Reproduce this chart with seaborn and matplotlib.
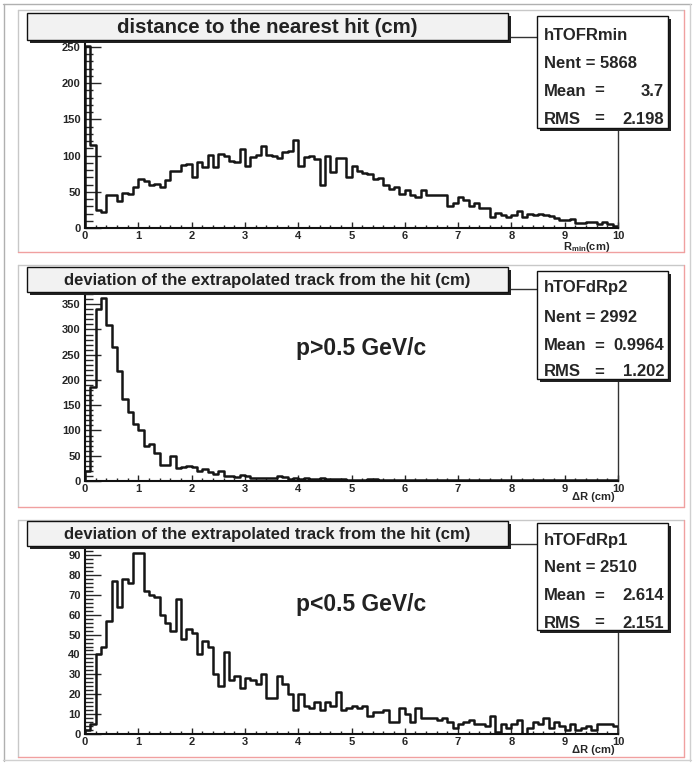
import numpy as np
import pandas as pd
import matplotlib
matplotlib.use("Agg")
import matplotlib.pyplot as plt
from matplotlib.patches import Rectangle
from matplotlib.lines import Line2D
from matplotlib.ticker import MultipleLocator
import seaborn as sns

# ---------------------------------------------------------------- data
bin_edges = np.linspace(0.0, 10.0, 101)

rmin_counts = [
    251, 115, 25, 22, 45, 45, 37, 48, 47, 56,
    67, 65, 60, 61, 56, 66, 78, 78, 87, 88,
    70, 91, 84, 101, 84, 102, 99, 92, 91, 109,
    86, 98, 101, 113, 101, 100, 97, 105, 106, 122,
    85, 98, 99, 95, 59, 100, 77, 97, 97, 71,
    85, 79, 76, 75, 68, 69, 60, 54, 57, 47,
    53, 46, 43, 52, 45, 45, 45, 45, 30, 35,
    43, 38, 30, 35, 28, 27, 15, 21, 18, 15,
    18, 24, 15, 19, 18, 19, 18, 16, 14, 11,
    11, 13, 7, 7, 8, 8, 6, 8, 6, 3,
]

drp2_counts = [
    20, 187, 340, 362, 308, 265, 217, 162, 137, 112,
    100, 70, 73, 55, 32, 32, 50, 25, 28, 29,
    27, 20, 23, 18, 13, 20, 10, 10, 8, 11,
    9, 6, 5, 6, 6, 6, 9, 7, 4, 6,
    4, 5, 4, 3, 5, 4, 4, 3, 3, 2,
    2, 1, 2, 3, 3, 1, 1, 2, 1, 2,
    1, 2, 2, 1, 1, 2, 1, 2, 1, 1,
    2, 1, 1, 2, 1, 1, 2, 1, 1, 2,
    1, 1, 2, 1, 1, 1, 2, 1, 1, 2,
    1, 1, 2, 1, 2, 1, 1, 1, 2, 1,
]

drp1_counts = [
    2, 5, 40, 44, 57, 77, 64, 78, 76, 91,
    91, 72, 70, 69, 60, 56, 52, 68, 48, 53,
    51, 40, 47, 44, 30, 24, 41, 27, 29, 23,
    28, 27, 25, 30, 18, 18, 29, 25, 20, 12,
    20, 14, 13, 16, 12, 16, 14, 21, 12, 13,
    14, 13, 14, 9, 11, 11, 12, 6, 6, 13,
    10, 6, 13, 8, 8, 8, 7, 8, 6, 3,
    5, 6, 7, 5, 5, 4, 9, 1, 5, 3,
    5, 7, 0, 3, 6, 5, 8, 3, 6, 4,
    2, 5, 2, 3, 4, 2, 5, 5, 5, 4,
]

titles = [
    "distance to the nearest hit (cm)",
    "deviation of the extrapolated track from the hit (cm)",
    "deviation of the extrapolated track from the hit (cm)",
]
hist_names = ["hTOFRmin", "hTOFdRp2", "hTOFdRp1"]
n_entries = ["5868", "2992", "2510"]
mean_vals = ["3.7", "0.9964", "2.614"]
rms_vals = ["2.198", "1.202", "2.151"]
cut_labels = [None, "p>0.5 GeV/c", "p<0.5 GeV/c"]
x_labels = [r"R$_{\mathbf{min}}$(cm)", "\u0394R (cm)", "\u0394R (cm)"]
y_major = [50, 50, 10]
y_minor = [10, 10, 2]
all_counts = [rmin_counts, drp2_counts, drp1_counts]

# ---------------------------------------------------------------- style
sns.set_style("ticks")
plt.rcParams["font.family"] = ["Liberation Sans", "DejaVu Sans"]
plt.rcParams["font.weight"] = "bold"
plt.rcParams["mathtext.fontset"] = "custom"
plt.rcParams["mathtext.rm"] = "Liberation Sans:bold"
plt.rcParams["mathtext.bf"] = "Liberation Sans:bold"

W, H = 694, 764
fig = plt.figure(figsize=(W / 100, H / 100), dpi=100)
fig.patch.set_facecolor("white")


def fx(x):
    return x / W


def fy(y):
    return 1 - y / H


def box(x0, y0, x1, y1, face, edge, lw=1.0, z=5, shadow=0):
    if shadow:
        fig.patches.append(Rectangle((fx(x0 + shadow), fy(y1 + shadow)),
                                     fx(x1 - x0), (y1 - y0) / H,
                                     transform=fig.transFigure,
                                     facecolor="#222222", edgecolor="none",
                                     zorder=z - 0.1))
    fig.patches.append(Rectangle((fx(x0), fy(y1)), fx(x1 - x0), (y1 - y0) / H,
                                 transform=fig.transFigure, facecolor=face,
                                 edgecolor=edge, linewidth=lw, zorder=z))


def hline(x0, x1, y, color, lw=1.0, z=6):
    fig.lines.append(Line2D([fx(x0), fx(x1)], [fy(y), fy(y)],
                            transform=fig.transFigure, color=color,
                            linewidth=lw, zorder=z))


def vline(x, y0, y1, color, lw=1.0, z=6):
    fig.lines.append(Line2D([fx(x), fx(x)], [fy(y0), fy(y1)],
                            transform=fig.transFigure, color=color,
                            linewidth=lw, zorder=z))


# canvas outline
hline(3, 691, 4, "#b0b0b0")
vline(4, 4, 761, "#b0b0b0")
vline(690, 4, 761, "#d0d0d0")
hline(3, 691, 760, "#d0d0d0")

pads = [(18, 10, 684, 252), (18, 265, 684, 507), (18, 520, 684, 757)]
frames = [(85, 37, 618, 228), (85, 289, 618, 481), (85, 544, 618, 734)]
title_boxes = [(27, 13, 508, 40), (27, 267, 508, 292), (27, 521, 508, 546)]
title_sizes = [14.7, 12, 12]
stat_boxes = [(537, 16, 668, 128), (537, 271, 668, 379), (537, 523, 668, 630)]
stat_rows = [(35, 63, 91, 119), (288, 317, 346, 372), (541, 568, 596, 623)]
cut_y = [None, 348, 605]
xlabel_pos = [(0.941, -0.098), (0.953, -0.082), (0.953, -0.082)]

centers = 0.5 * (bin_edges[:-1] + bin_edges[1:])

for i in range(3):
    px0, py0, px1, py1 = pads[i]
    vline(px0, py0, py1, "#c8c8c8", z=0.5)
    hline(px0, px1, py0, "#c8c8c8", z=0.5)
    vline(px1, py0, py1, "#f0a0a0", z=0.5)
    hline(px0, px1, py1, "#f0a0a0", z=0.5)

    x0, y0, x1, y1 = frames[i]
    ax = fig.add_axes([fx(x0), fy(y1), fx(x1 - x0), (y1 - y0) / H])
    counts = all_counts[i]
    df = pd.DataFrame({"x": centers, "n": counts})
    sns.histplot(data=df, x="x", weights="n", binwidth=0.1,
                 binrange=(0.0, 10.0), element="step", fill=False,
                 color="#151515", linewidth=1.8, ax=ax)
    ax.vlines([bin_edges[0], bin_edges[-1]], 0, [counts[0], counts[-1]],
              color="#151515", linewidth=1.8)
    ax.set_xlim(0, 10)
    ax.set_ylim(0, 1.05 * max(counts))
    ax.set_xlabel("")
    ax.set_ylabel("")
    ax.xaxis.set_major_locator(MultipleLocator(1))
    ax.xaxis.set_minor_locator(MultipleLocator(0.2))
    ax.yaxis.set_major_locator(MultipleLocator(y_major[i]))
    ax.yaxis.set_minor_locator(MultipleLocator(y_minor[i]))
    ax.tick_params(axis="x", which="major", direction="in", length=4.2,
                   width=1.0, labelsize=8, pad=2)
    ax.tick_params(axis="x", which="minor", direction="in", length=2.1,
                   width=1.0)
    ax.tick_params(axis="y", which="major", direction="in", length=11.5,
                   width=1.0, labelsize=8, pad=3)
    ax.tick_params(axis="y", which="minor", direction="in", length=5.8,
                   width=1.0)
    for lab in ax.get_xticklabels() + ax.get_yticklabels():
        lab.set_fontweight("bold")
    for s in ("left", "bottom"):
        ax.spines[s].set_linewidth(1.5)
        ax.spines[s].set_color("#111111")
    for s in ("top", "right"):
        ax.spines[s].set_linewidth(1.0)
        ax.spines[s].set_color("#333333")

    lx, ly = xlabel_pos[i]
    ax.text(lx, ly, x_labels[i], transform=ax.transAxes,
            ha="center", va="center", fontsize=8, fontweight="bold")

    # title pave
    tx0, ty0, tx1, ty1 = title_boxes[i]
    box(tx0, ty0, tx1, ty1, "#f2f2f2", "#111111", lw=1.0, z=5, shadow=3)
    fig.text(fx((tx0 + tx1) / 2), fy((ty0 + ty1) / 2 + 1), titles[i],
             ha="center", va="center", fontsize=title_sizes[i],
             fontweight="bold", color="#222222", zorder=7)

    # statistics pave
    sx0, sy0, sx1, sy1 = stat_boxes[i]
    box(sx0, sy0, sx1, sy1, "white", "#111111", lw=1.0, z=5, shadow=3)
    r = stat_rows[i]
    fs = 12
    fig.text(fx(544), fy(r[0]), hist_names[i], ha="left", va="center",
             fontsize=fs, fontweight="bold", zorder=7)
    fig.text(fx(544), fy(r[1]), "Nent = " + n_entries[i], ha="left",
             va="center", fontsize=fs, fontweight="bold", zorder=7)
    fig.text(fx(544), fy(r[2]), "Mean", ha="left", va="center",
             fontsize=fs, fontweight="bold", zorder=7)
    fig.text(fx(544), fy(r[3]), "RMS", ha="left", va="center",
             fontsize=fs, fontweight="bold", zorder=7)
    for row in (r[2], r[3]):
        fig.text(fx(599), fy(row), "=", ha="center", va="center",
                 fontsize=fs, fontweight="bold", zorder=7)
    fig.text(fx(664), fy(r[2]), mean_vals[i], ha="right", va="center",
             fontsize=fs, fontweight="bold", zorder=7)
    fig.text(fx(664), fy(r[3]), rms_vals[i], ha="right", va="center",
             fontsize=fs, fontweight="bold", zorder=7)

    if cut_labels[i]:
        fig.text(fx(361), fy(cut_y[i]), cut_labels[i], ha="center",
                 va="center", fontsize=16.5, fontweight="bold",
                 color="#222222", zorder=7)

fig.savefig("out.png", dpi=100, facecolor="white")
